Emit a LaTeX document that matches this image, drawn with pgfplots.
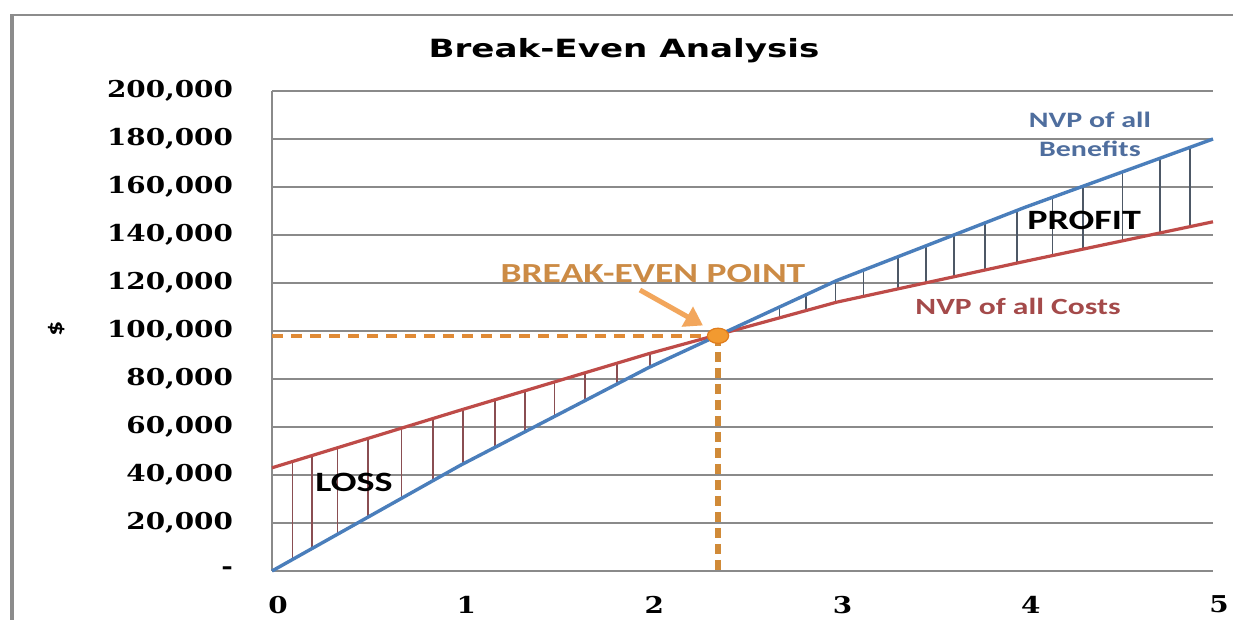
\documentclass[border=0pt]{standalone}
\usepackage{fontspec}
\usepackage{pgfplots}
\usepackage{pgfplotstable}
\pgfplotsset{compat=1.18}
\usetikzlibrary{arrows.meta}
\setmainfont{Carlito}
\newfontfamily\titlefont{DejaVu Sans}[FakeStretch=1.36]
\newfontfamily\labfont{Carlito}[FakeStretch=1.36]
\newfontfamily\tickfont{DejaVu Serif}[FakeStretch=1.2]
\definecolor{benblue}{HTML}{4A7EBB}
\definecolor{costred}{HTML}{BE4B48}
\definecolor{beorange}{HTML}{E08A35}
\definecolor{bevert}{HTML}{D08A38}
\definecolor{arrowor}{HTML}{F2A65C}
\definecolor{betext}{HTML}{CC8B45}
\definecolor{gridgray}{HTML}{8A8A8A}
\definecolor{framegray}{HTML}{8C8C8C}
\definecolor{nvpblue}{HTML}{4F6E9E}
\definecolor{nvpred}{HTML}{A44A4A}
\definecolor{losshatch}{HTML}{8A4E52}
\definecolor{profhatch}{HTML}{4D5866}
\definecolor{dotfill}{HTML}{F29A30}
\definecolor{dotedge}{HTML}{E07C1C}
\pgfplotstableread{
x y
0 0
1 44000
2 84700
3 121000
4 151500
5 180000
}\benefits
\pgfplotstableread{
x y
0 43000
1 67000
2 90500
3 112000
4 129000
5 145500
}\costs
\begin{document}
\begin{tikzpicture}
\path[use as bounding box] (0,0) rectangle (616.5pt,310pt);
\fill[white] (0,0) rectangle (616.5pt,310pt);
\draw[framegray, line width=2pt] (6pt,0) -- (6pt,303pt);
\draw[framegray, line width=1pt] (5pt,302.5pt) -- (616.5pt,302.5pt);
\begin{axis}[
  at={(136pt,24.5pt)}, anchor=south west,
  scale only axis, width=470.5pt, height=240pt,
  xmin=0, xmax=5, ymin=0, ymax=200000,
  xtick={0,1,2,3,4,5},
  xticklabels={0,1,2,3,4,5},
  ytick={0,20000,40000,60000,80000,100000,120000,140000,160000,180000,200000},
  yticklabels={{-\hspace{8pt}},{20,000},{40,000},{60,000},{80,000},{100,000},{120,000},{140,000},{160,000},{180,000},{200,000}},
  scaled y ticks=false,
  ymajorgrids,
  grid style={draw=gridgray, line width=0.6pt},
  axis line style={draw=none},
  tick style={draw=none},
  ticklabel style={font=\tickfont\bfseries\fontsize{11.6pt}{12pt}\selectfont},
  yticklabel style={xshift=-16pt},
  xticklabel style={yshift=-9pt, xshift=3pt},
  clip=false,
  unbounded coords=jump,
]
\draw[gridgray, line width=0.6pt] (axis cs:0,0) -- (axis cs:0,200000);
% loss hatch
\addplot[losshatch, line width=0.8pt] coordinates {
(0.108,45600) (0.108,4750) (0.108,nan)
(0.211,48060) (0.211,9280) (0.211,nan)
(0.349,51380) (0.349,15360) (0.349,nan)
(0.509,55220) (0.509,22400) (0.509,nan)
(0.689,59540) (0.689,30320) (0.689,nan)
(0.857,63570) (0.857,37710) (0.857,nan)
(1.016,67380) (1.016,44650) (1.016,nan)
(1.185,71350) (1.185,51530) (1.185,nan)
(1.344,75080) (1.344,58000) (1.344,nan)
(1.5,78750) (1.5,64350) (1.5,nan)
(1.663,82580) (1.663,70980) (1.663,nan)
(1.832,86550) (1.832,77860) (1.832,nan)
(2.009,90690) (2.009,85030)
};
% profit hatch
\addplot[profhatch, line width=0.8pt] coordinates {
(2.696,109970) (2.696,105460) (2.696,nan)
(2.836,114790) (2.836,108470) (2.836,nan)
(2.995,120560) (2.995,111890) (2.995,nan)
(3.142,125330) (3.142,114410) (3.142,nan)
(3.325,130910) (3.325,117530) (3.325,nan)
(3.475,135490) (3.475,120080) (3.475,nan)
(3.624,140030) (3.624,122610) (3.624,nan)
(3.789,145060) (3.789,125410) (3.789,nan)
(3.96,150280) (3.96,128320) (3.96,nan)
(4.148,155720) (4.148,131440) (4.148,nan)
(4.308,160280) (4.308,134080) (4.308,nan)
(4.52,166320) (4.52,137580) (4.52,nan)
(4.718,171960) (4.718,140850) (4.718,nan)
(4.878,176520) (4.878,143490)
};
\addplot[costred, line width=1.6pt] table[x=x,y=y] {\costs};
\addplot[benblue, line width=1.7pt] table[x=x,y=y] {\benefits};
% break-even guides
\addplot[beorange, line width=2pt, dash pattern=on 5.5pt off 4pt] coordinates {(0,98000) (2.37,98000)};
\addplot[bevert, line width=3pt, dash pattern=on 5pt off 3pt] coordinates {(2.37,98000) (2.37,0)};
\draw[arrowor, line width=2.5pt, -{Triangle[length=9pt,width=11pt]}] (axis cs:1.955,117083) -- (axis cs:2.29,102300);
\addplot[only marks, mark=*, mark size=3.8pt, mark options={fill=dotfill, draw=dotedge, line width=0.6pt, xscale=1.4}] coordinates {(2.37,98000)};
% labels
\node[anchor=base, text=betext, font=\labfont\bfseries\fontsize{13.8pt}{14pt}\selectfont] at (axis cs:2.024,120000) {BREAK-EVEN POINT};
\node[anchor=base, text=nvpred, font=\labfont\bfseries\fontsize{11.6pt}{12pt}\selectfont] at (axis cs:3.964,106667) {NVP of all Costs};
\node[anchor=base, text=nvpblue, font=\labfont\bfseries\fontsize{11pt}{12pt}\selectfont] at (axis cs:4.346,184583) {NVP of all};
\node[anchor=base, text=nvpblue, font=\labfont\bfseries\fontsize{11pt}{12pt}\selectfont] at (axis cs:4.346,172500) {Benefits};
\node[anchor=base, text=black, font=\labfont\bfseries\fontsize{14pt}{14pt}\selectfont] at (axis cs:4.315,142083) {PROFIT};
\node[anchor=base, text=black, font=\labfont\bfseries\fontsize{14pt}{14pt}\selectfont] at (axis cs:0.436,32917) {LOSS};
\end{axis}
\node[anchor=base, font=\titlefont\bfseries\fontsize{12.55pt}{14pt}\selectfont] at (312pt,281pt) {Break-Even Analysis};
\node[rotate=90, font=\labfont\bfseries\fontsize{11pt}{12pt}\selectfont] at (28.5pt,145.5pt) {\$};
\end{tikzpicture}
\end{document}
